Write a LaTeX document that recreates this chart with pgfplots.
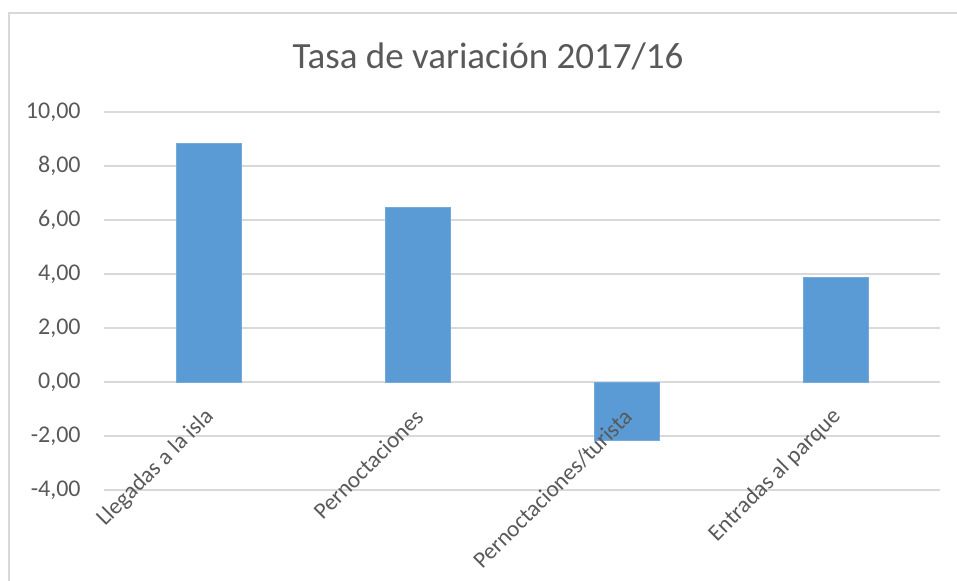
\documentclass[border=0pt]{standalone}
\usepackage{pgfplots}
\pgfplotsset{compat=1.18}
\usepackage{fontspec}
\setmainfont{Carlito}
\definecolor{barblue}{HTML}{5B9BD5}
\definecolor{gridgray}{HTML}{D9D9D9}
\definecolor{txtgray}{HTML}{595959}
\tikzset{catlabel/.style={rotate=45, anchor=east, inner sep=0pt, text=txtgray, font=\fontsize{11.6}{14}\selectfont}}
\begin{document}
\begin{tikzpicture}
\begin{axis}[
  at={(0,0)}, anchor=south west,
  scale only axis,
  width=418pt, height=189pt,
  xmin=-0.5, xmax=3.5,
  ymin=-4, ymax=10,
  ytick={-4,-2,0,2,4,6,8,10},
  xtick={0,1,2,3},
  xticklabels={},
  ymajorgrids,
  grid style={gridgray, line width=0.85pt},
  axis line style={draw=none},
  major tick length=0pt,
  /pgf/number format/assume math mode=true,
  yticklabel={\pgfmathprintnumber[fixed, fixed zerofill, precision=2, use comma]{\tick}},
  yticklabel style={anchor=east, inner sep=0pt, xshift=-11.5pt, text=txtgray, font=\fontsize{12}{14}\selectfont},
  ybar, bar width=32.5pt,
  clip=false,
]
\addplot[fill=barblue, draw=barblue!85!white, line width=0.4pt] coordinates {(0,8.85) (1,6.47) (2,-2.18) (3,3.86)};
\node[catlabel] at ([xshift=1pt,yshift=-15.5pt]axis cs:0,0) {Llegadas a la isla};
\node[catlabel] at ([xshift=1pt,yshift=-15.5pt]axis cs:1,0) {Pernoctaciones};
\node[catlabel] at ([xshift=1pt,yshift=-15.5pt]axis cs:2,0) {Pernoctaciones/turista};
\node[catlabel] at ([xshift=1pt,yshift=-15.5pt]axis cs:3,0) {Entradas al parque};
\end{axis}
\node[anchor=base, text=txtgray, font=\fontsize{18.5}{22}\selectfont] at (192pt,211pt) {Tasa de variación 2017/16};
\draw[gridgray, line width=0.75pt] (-47.5pt,-80pt) |- (470pt,238.6pt);
\pgfresetboundingbox
\path[use as bounding box] (-52pt,-45pt) rectangle (426.5pt,245pt);
\end{tikzpicture}
\end{document}
